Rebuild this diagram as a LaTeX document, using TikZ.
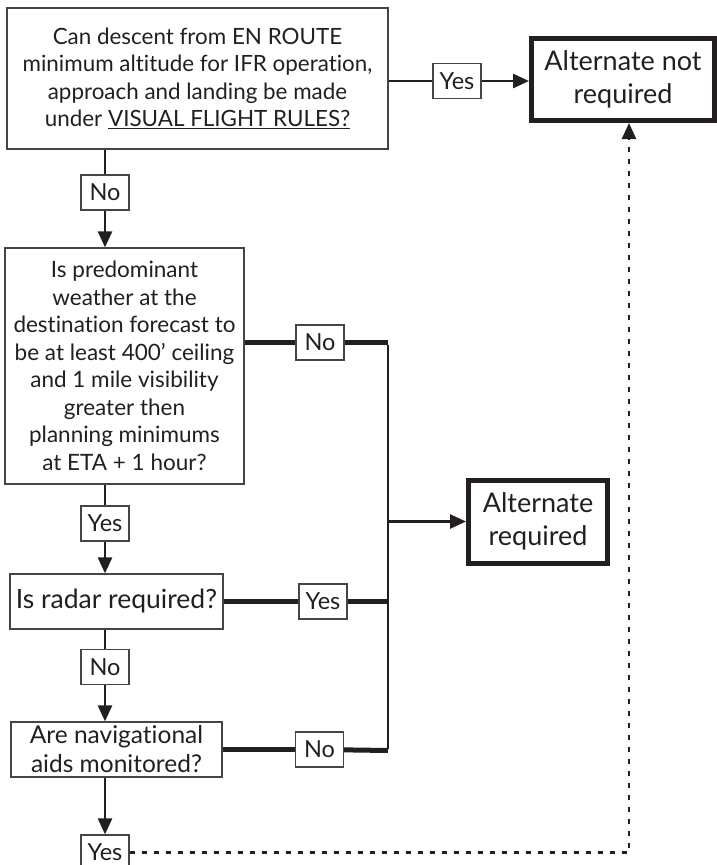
\documentclass[tikz,border=0pt]{standalone}
\usepackage{fontspec}
\setmainfont{Lato}[Ligatures=NoCommon]
\usetikzlibrary{arrows.meta}
\definecolor{ink}{RGB}{35,31,32}
\definecolor{boxgray}{RGB}{70,68,68}
\newcommand\qfont{\fontsize{22.4}{27.5}\selectfont}
\newcommand\bigqfont{\fontsize{22.5}{27.5}\selectfont}
\newcommand\radarfont{\fontsize{26.5}{29}\selectfont}
\newcommand\navfont{\fontsize{24.5}{29}\selectfont}
\newcommand\afont{\fontsize{27}{33}\selectfont}
\newcommand\tagfont{\fontsize{23.5}{23.5}\selectfont}
\tikzset{
	qbox/.style={draw=boxgray, line width=1.2pt, align=center, inner sep=0pt, font=\qfont, text=ink},
	ansbox/.style={draw=ink, line width=5pt, align=center, inner sep=0pt, font=\afont, text=ink},
	tag/.style={draw=boxgray, fill=white, line width=1.2pt, minimum width=48pt, minimum height=35pt, inner sep=0pt, font=\tagfont, text=ink},
	link/.style={draw=ink, line width=2.5pt},
	heavy/.style={draw=ink, line width=5pt},
	go/.style={link, -{Triangle[length=16pt,width=14pt]}},
	dots/.style={go, dash pattern=on 5pt off 7pt}
}
\begin{document}
\begin{tikzpicture}[x=1pt,y=-1pt]
	\useasboundingbox (0,0) rectangle (717,865);
	\node[qbox, minimum width=381pt, minimum height=141pt] (q1) at (197.5,78.5)
		{Can descent from EN ROUTE\\minimum altitude for IFR operation,\\approach and landing be made\\under \underline{VISUAL FLIGHT RULES?}};
	\node[qbox, font=\bigqfont, minimum width=239pt, minimum height=236pt] (q2) at (124.5,366)
		{Is predominant\\weather at the\\destination forecast to\\be at least 400' ceiling\\and 1 mile visibility\\greater then\\planning minimums\\at ETA + 1 hour?};
	\node[qbox, font=\radarfont, minimum width=213pt, minimum height=55pt] (q3) at (116.5,601.5) {Is radar required?};
	\node[qbox, font=\navfont, minimum width=211pt, minimum height=55pt] (q4) at (116.5,749.5) {Are navigational\\aids monitored?};
	\node[ansbox, minimum width=183pt, minimum height=82pt] (notreq) at (623,79.5) {Alternate not\\required};
	\node[ansbox, minimum width=139pt, minimum height=83pt] (req) at (538,521.5) {Alternate\\required};
	\node[tag] (y1) at (457,81) {Yes};
	\node[tag] (n1) at (105,192.5) {No};
	\node[tag] (n2) at (320,342.5) {No};
	\node[tag] (y2) at (105,523.5) {Yes};
	\node[tag] (y3) at (323,601.5) {Yes};
	\node[tag] (n3) at (105,667) {No};
	\node[tag] (n4) at (319.5,749.5) {No};
	\node[tag] (y4) at (105,852.5) {Yes};
	\path (388,342.5) coordinate (bustop)
	++ (0,408) coordinate (busbot);
	\draw[link] (q1.east |- y1) -- (y1);
	\draw[go] (y1) -- (y1 -| notreq.west);
	\draw[link] (n1 |- q1.south) -- (n1);
	\draw[go] (n1) -- (n1 |- q2.north);
	\draw[link] (y2 |- q2.south) -- (y2);
	\draw[go] (y2) -- (y2 |- q3.north);
	\draw[link] (n3 |- q3.south) -- (n3);
	\draw[go] (n3) -- (n3 |- q4.north);
	\draw[go] (y4 |- q4.south) -- (y4);
	\draw[heavy] (q2.east |- n2) -- (n2);
	\draw[heavy] (n2) -- (bustop);
	\draw[heavy] (q3) -- (y3);
	\draw[heavy] (y3) -- (y3 -| bustop);
	\draw[heavy] (q4) -- (n4);
	\draw[heavy] (n4) -- (busbot);
	\draw[link] ([yshift=-2pt]bustop) -- ([yshift=2pt]busbot);
	\draw[go] (bustop |- req) -- (req.west);
	\draw[dots] (y4.east) -| ([xshift=6pt]notreq.south);
\end{tikzpicture}
\end{document}
